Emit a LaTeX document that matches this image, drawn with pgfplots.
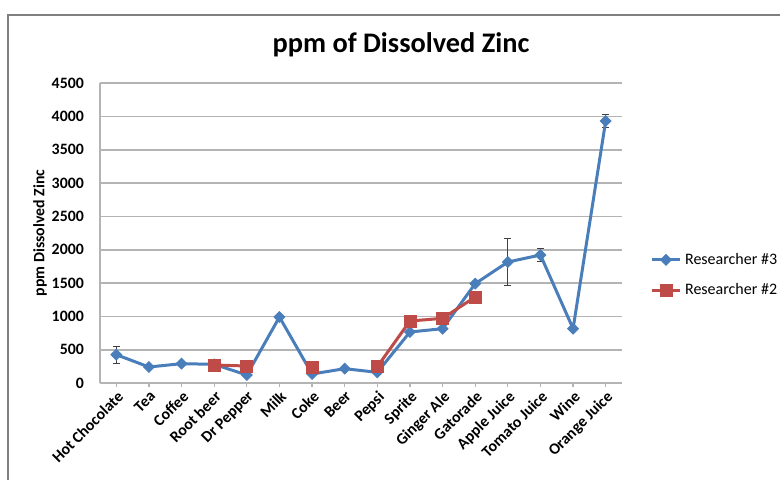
\documentclass[border=0pt]{standalone}
\usepackage{fontspec}
\setmainfont{Carlito}
\usepackage{pgfplots}
\usepackage{pgfplotstable}
\pgfplotsset{compat=1.18}
\definecolor{serblue}{HTML}{4A7EBB}
\definecolor{serred}{HTML}{BE4B48}
\definecolor{gridgray}{HTML}{B4B4B4}
\definecolor{framegray}{HTML}{7F7F7F}

% x, Researcher #3, Researcher #2 (nan = not measured)
\pgfplotstableread{
x  r3    r2
0  425   nan
1  240   nan
2  290   nan
3  280   270
4  120   255
5  990   nan
6  135   230
7  215   nan
8  160   245
9  765   930
10 815   970
11 1490  1290
12 1815  nan
13 1920  nan
14 815   nan
15 3930  nan
}\zinc

% only the points that carry error bars
\pgfplotstableread{
x  y     e
0  425   125
12 1815  355
13 1920  100
15 3930  100
}\zincerr

\begin{document}
\begin{tikzpicture}
% 1 px of the reference = 0.6pt
\useasboundingbox (0,0) rectangle (468pt,287.4pt);
\draw[framegray, line width=1.2pt] (4.8pt,-3pt) -- (4.8pt,278.4pt) -- (474pt,278.4pt);

\begin{axis}[
    at={(60pt,57.6pt)}, anchor=south west,
    scale only axis, width=313.2pt, height=180pt,
    xmin=-0.5, xmax=15.5, ymin=0, ymax=4500,
    xtick={0,...,15},
    xticklabels={Hot Chocolate, Tea, Coffee, Root beer, Dr Pepper, Milk, Coke, Beer,
        Pepsi, Sprite, Ginger Ale, Gatorade, Apple Juice, Tomato Juice, Wine, Orange Juice},
    ytick={0,500,...,4500},
    axis x line*=bottom, axis y line*=left,
    axis line style={gridgray, line width=1pt, -},
    ymajorgrids, grid style={gridgray, line width=1pt},
    ytick style={draw=none},
    xtick style={gridgray, line width=0.8pt},
    tick align=outside, major tick length=2.5pt,
    /pgf/number format/assume math mode=true,
    /pgf/number format/set thousands separator={},
    ticklabel style={font=\bfseries\fontsize{9.5}{11}\selectfont},
    xticklabel style={rotate=45, anchor=north east, inner sep=1pt},
    yticklabel style={inner sep=1pt, xshift=-6pt},
    ylabel={ppm Dissolved Zinc},
    ylabel style={font=\bfseries\fontsize{9.5}{11}\selectfont,
        at={(axis description cs:-0.115,0.5)}, anchor=center},
    unbounded coords=jump,
    legend style={at={(1.044,0.36)}, anchor=west, draw=none, fill=none,
        font=\fontsize{9.6}{11}\selectfont, row sep=6pt},
    legend cell align=left,
]
\addplot[draw=none, forget plot,
    error bars/.cd, y dir=both, y explicit,
    error bar style={black!75, line width=0.6pt},
    error mark options={rotate=90, mark size=2pt, black!75, line width=0.6pt}]
    table[x=x, y=y, y error=e] {\zincerr};
\addplot[serblue, line width=1.8pt, mark=square*,
    mark options={rotate=45, mark size=2.3pt, fill=serblue, line width=0.5pt}]
    table[x=x, y=r3] {\zinc};
\addlegendentry{Researcher \#3}
\addplot[serred, line width=1.8pt, mark=square*,
    mark options={mark size=3.6pt, fill=serred, line width=0.5pt}]
    table[x=x, y=r2] {\zinc};
\addlegendentry{Researcher \#2}
\end{axis}

\node[font=\bfseries\fontsize{17}{20}\selectfont] at (240.6pt,260.4pt) {ppm of Dissolved Zinc};
\end{tikzpicture}
\end{document}
